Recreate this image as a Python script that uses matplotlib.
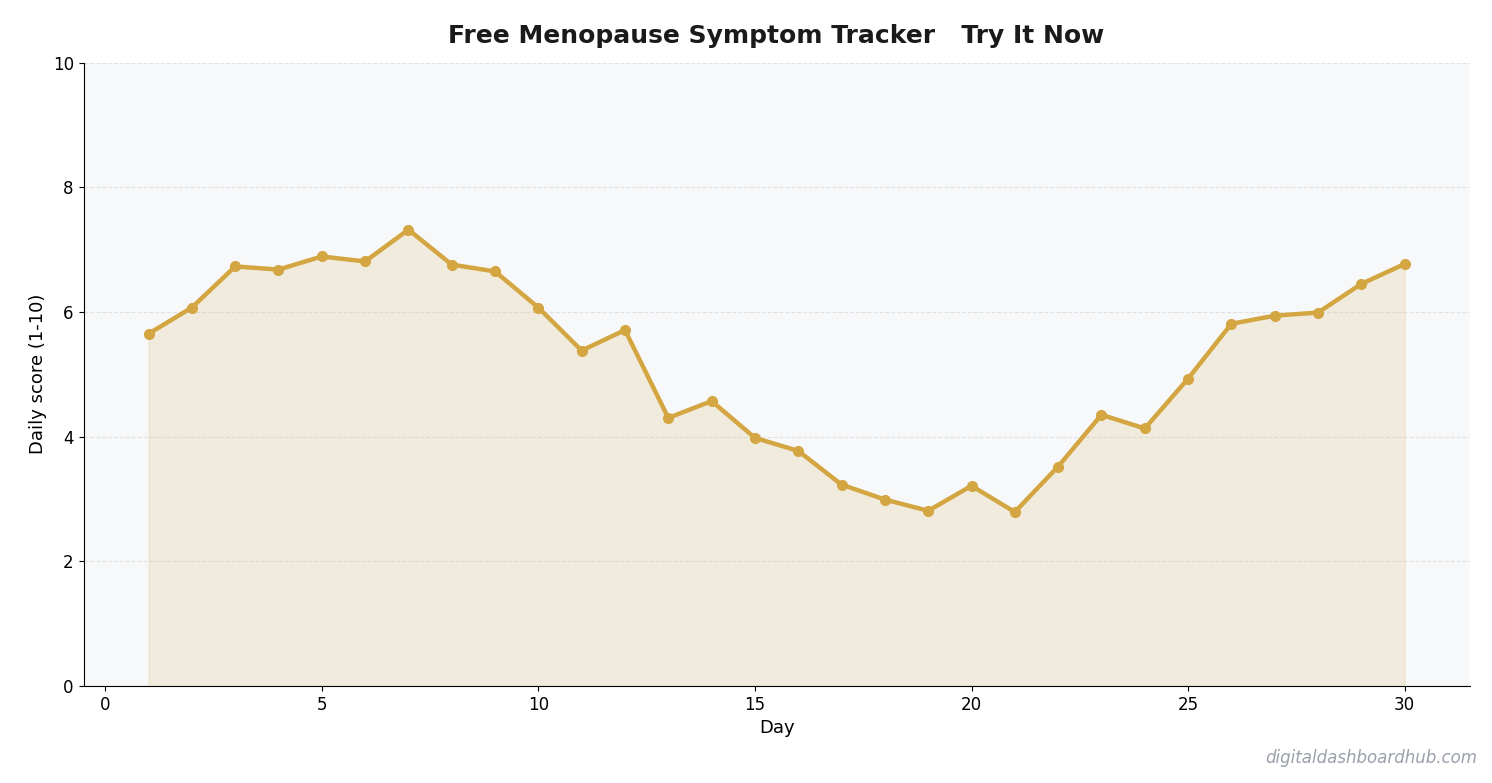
import matplotlib.pyplot as plt

days = list(range(1, 31))
scores = [5.65, 6.07, 6.73, 6.68, 6.89, 6.81, 7.32, 6.76, 6.65, 6.07,
          5.38, 5.71, 4.30, 4.57, 3.98, 3.77, 3.23, 2.99, 2.81, 3.21,
          2.79, 3.52, 4.35, 4.13, 4.93, 5.81, 5.94, 5.99, 6.45, 6.77]

gold = '#d4a642'

fig, ax = plt.subplots(figsize=(14.92, 7.83), dpi=100)
ax.set_facecolor('#f7f8fa')
ax.fill_between(days, scores, color=gold, alpha=0.15)
ax.plot(days, scores, color=gold, lw=3.2, marker='o', ms=7)

ax.set_xlim(-0.5, 31.5)
ax.set_ylim(0, 10)
ax.set_yticks(range(0, 11, 2))
ax.grid(axis='y', ls='--', color='#dddddd', alpha=0.8)
ax.set_axisbelow(True)
for s in ['top', 'right']:
    ax.spines[s].set_visible(False)
ax.tick_params(labelsize=12)

ax.set_xlabel('Day', fontsize=13)
ax.set_ylabel('Daily score (1-10)', fontsize=13)
ax.set_title('Free Menopause Symptom Tracker   Try It Now', fontsize=18,
             fontweight='bold', color='#1a1a1a', pad=14)

fig.text(0.99, 0.02, 'digitaldashboardhub.com', ha='right', va='bottom',
         fontsize=12, style='italic', color='#9aa0ab')

fig.subplots_adjust(left=0.056, right=0.985, top=0.92, bottom=0.124)
fig.savefig('out.png', dpi=100)
